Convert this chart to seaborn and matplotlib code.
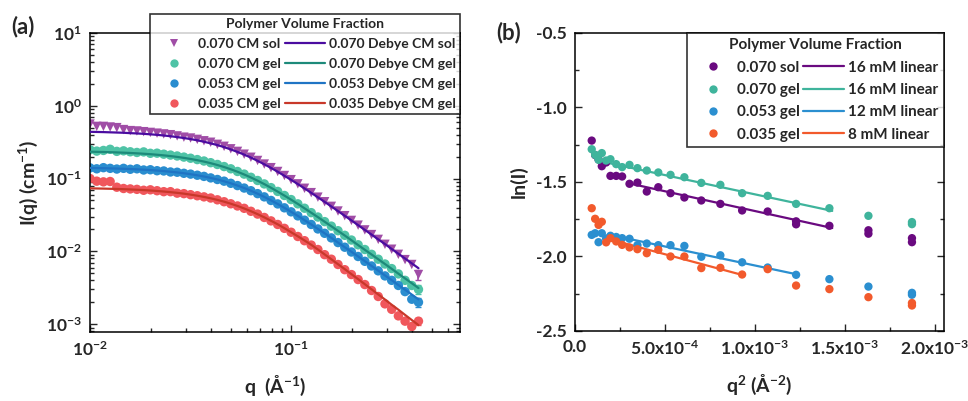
import numpy as np
import pandas as pd
import matplotlib
matplotlib.use("Agg")
import matplotlib.pyplot as plt
import seaborn as sns
from matplotlib.lines import Line2D
from matplotlib.ticker import LogLocator, MultipleLocator, NullFormatter

# ---- panel (a): SANS intensity vs q ----
q = [0.0100, 0.01080, 0.01166, 0.01259, 0.01359, 0.01468, 0.01585, 0.01711, 0.01848, 0.01995,
     0.02154, 0.02326, 0.02512, 0.02712, 0.02929, 0.03162, 0.03415, 0.03687, 0.03981, 0.04299,
     0.04642, 0.05012, 0.05412, 0.05843, 0.06310, 0.06813, 0.07356, 0.07943, 0.08577, 0.09261,
     0.1000, 0.1080, 0.1166, 0.1259, 0.1359, 0.1468, 0.1585, 0.1711, 0.1848, 0.1995,
     0.2154, 0.2326, 0.2512, 0.2712, 0.2929, 0.3162, 0.3415, 0.3687, 0.3981, 0.4299]

i_sol = [0.56, 0.52, 0.52, 0.51, 0.50, 0.47, 0.455, 0.45, 0.44, 0.43,
         0.42, 0.41, 0.40, 0.385, 0.37, 0.36, 0.345, 0.33, 0.315, 0.295,
         0.277, 0.256, 0.236, 0.216, 0.196, 0.177, 0.158, 0.141, 0.125, 0.110,
         0.0965, 0.0845, 0.0735, 0.0640, 0.0555, 0.0480, 0.0415, 0.0358, 0.0309, 0.0266,
         0.0229, 0.0197, 0.0170, 0.0146, 0.0125, 0.0107, 0.0091, 0.0077, 0.0066, 0.0048]
i_gel70 = [0.248, 0.238, 0.243, 0.252, 0.236, 0.240, 0.233, 0.228, 0.232, 0.222,
           0.223, 0.216, 0.210, 0.204, 0.197, 0.190, 0.182, 0.174, 0.165, 0.156,
           0.146, 0.136, 0.125, 0.115, 0.104, 0.0940, 0.0843, 0.0750, 0.0665, 0.0585,
           0.0514, 0.0449, 0.0391, 0.0340, 0.0296, 0.0256, 0.0222, 0.0192, 0.0166, 0.0143,
           0.0123, 0.0106, 0.0091, 0.0078, 0.0067, 0.0058, 0.0049, 0.0040, 0.0034, 0.0030]
i_gel53 = [0.140, 0.136, 0.141, 0.138, 0.135, 0.138, 0.134, 0.136, 0.131, 0.132,
           0.128, 0.127, 0.123, 0.122, 0.118, 0.115, 0.111, 0.107, 0.102, 0.097,
           0.092, 0.086, 0.080, 0.074, 0.068, 0.062, 0.056, 0.050, 0.0448, 0.0396,
           0.0349, 0.0307, 0.0268, 0.0234, 0.0203, 0.0177, 0.0153, 0.0132, 0.0114, 0.0098,
           0.0085, 0.0073, 0.0063, 0.0054, 0.0046, 0.0040, 0.0034, 0.0028, 0.0022, 0.0020]
i_gel35 = [0.100, 0.092, 0.090, 0.091, 0.076, 0.073, 0.072, 0.071, 0.069, 0.070,
           0.068, 0.066, 0.066, 0.063, 0.062, 0.060, 0.058, 0.056, 0.054, 0.051,
           0.048, 0.045, 0.042, 0.039, 0.0355, 0.0325, 0.0292, 0.0262, 0.0234, 0.0207,
           0.0183, 0.0160, 0.0140, 0.0122, 0.0106, 0.0090, 0.0078, 0.0066, 0.0056, 0.0048,
           0.0041, 0.0035, 0.0029, 0.0024, 0.0019, 0.0016, 0.00130, 0.00110, 0.00093, 0.00110]

fit_sol = [0.438, 0.436, 0.434, 0.431, 0.428, 0.425, 0.420, 0.416, 0.411, 0.405,
           0.398, 0.390, 0.381, 0.371, 0.360, 0.348, 0.335, 0.320, 0.304, 0.288,
           0.270, 0.251, 0.232, 0.213, 0.194, 0.175, 0.157, 0.140, 0.124, 0.109,
           0.0960, 0.0839, 0.0732, 0.0636, 0.0552, 0.0478, 0.0414, 0.0357, 0.0308, 0.0266,
           0.0229, 0.0197, 0.0170, 0.0146, 0.0126, 0.0108, 0.00927, 0.00797, 0.00684, 0.00587]
fit_gel70 = [0.2335, 0.2325, 0.2313, 0.2299, 0.2283, 0.2264, 0.2243, 0.2218, 0.2190, 0.2158,
             0.2121, 0.2080, 0.2033, 0.1981, 0.1922, 0.1857, 0.1786, 0.1708, 0.1624, 0.1534,
             0.1439, 0.1340, 0.1239, 0.1136, 0.1034, 0.0934, 0.0838, 0.0747, 0.0661, 0.0583,
             0.0512, 0.0448, 0.0390, 0.0339, 0.0295, 0.0255, 0.0221, 0.0191, 0.0165, 0.0142,
             0.0122, 0.0105, 0.00906, 0.00779, 0.00670, 0.00576, 0.00494, 0.00425, 0.00365, 0.00313]
fit_gel53 = [0.1397, 0.1392, 0.1386, 0.1378, 0.1370, 0.1361, 0.1350, 0.1337, 0.1322, 0.1306,
             0.1287, 0.1265, 0.1240, 0.1213, 0.1182, 0.1147, 0.1108, 0.1066, 0.1020, 0.0970,
             0.0916, 0.0860, 0.0801, 0.0741, 0.0680, 0.0619, 0.0559, 0.0502, 0.0447, 0.0396,
             0.0349, 0.0307, 0.0268, 0.0234, 0.0203, 0.0177, 0.0153, 0.0132, 0.0114, 0.00987,
             0.00851, 0.00733, 0.00631, 0.00543, 0.00467, 0.00402, 0.00345, 0.00297, 0.00255, 0.00219]
fit_gel35 = [0.0733, 0.0730, 0.0727, 0.0723, 0.0719, 0.0714, 0.0708, 0.0701, 0.0694, 0.0685,
             0.0675, 0.0663, 0.0650, 0.0636, 0.0620, 0.0601, 0.0581, 0.0559, 0.0535, 0.0509,
             0.0481, 0.0451, 0.0420, 0.0388, 0.0356, 0.0324, 0.0293, 0.0263, 0.0235, 0.0208,
             0.0183, 0.0161, 0.0141, 0.0123, 0.0106, 0.00908, 0.00778, 0.00666, 0.00570, 0.00486,
             0.00415, 0.00354, 0.00301, 0.00256, 0.00218, 0.00185, 0.00158, 0.00134, 0.00114, 0.00097]

# error bars only visible on the last q point
err_last = [0.0008, 0.0004, 0.0003, 0.00012]

labels_a_pts = ["0.070 CM sol", "0.070 CM gel", "0.053 CM gel", "0.035 CM gel"]
labels_a_fit = ["0.070 Debye CM sol", "0.070 Debye CM gel", "0.053 Debye CM gel", "0.035 Debye CM gel"]

# ---- panel (b): ln(I) vs q^2 (q^2 in 1e-4 A^-2) ----
q2_sol = [0.93, 1.12, 1.31, 1.49, 1.73, 1.97, 2.29, 2.62, 3.03, 3.47, 3.99, 4.63, 5.31,
          6.08, 7.02, 8.08, 9.29, 10.71, 12.29, 12.29, 14.14, 16.31, 16.31, 18.73, 18.73]
ln_sol = [-1.223, -1.32, -1.35, -1.395, -1.37, -1.460, -1.460, -1.464, -1.513, -1.505, -1.565, -1.536, -1.576,
          -1.605, -1.625, -1.648, -1.692, -1.699, -1.765, -1.785, -1.795, -1.825, -1.848, -1.878, -1.905]
q2_gel = [0.93, 1.12, 1.31, 1.49, 1.73, 1.97, 2.29, 2.62, 3.03, 3.47, 3.99, 4.63, 5.31,
          6.08, 7.02, 8.08, 9.29, 10.71, 12.29, 14.14, 16.31, 18.73, 18.73]
ln_gel70 = [-1.281, -1.319, -1.352, -1.307, -1.357, -1.348, -1.381, -1.401, -1.386, -1.408, -1.424, -1.437, -1.453,
            -1.469, -1.507, -1.520, -1.576, -1.594, -1.648, -1.677, -1.728, -1.770, -1.784]
ln_gel53 = [-1.856, -1.845, -1.905, -1.845, -1.880, -1.862, -1.870, -1.878, -1.882, -1.925, -1.914, -1.925, -1.925,
            -1.930, -2.003, -1.993, -2.040, -2.075, -2.124, -2.153, -2.203, -2.245, -2.258]
ln_gel35 = [-1.677, -1.748, -1.789, -1.768, -1.906, -1.878, -1.900, -1.923, -1.940, -1.952, -1.979, -1.956, -2.001,
            -2.001, -2.079, -2.077, -2.122, -2.086, -2.196, -2.220, -2.274, -2.313, -2.330]

# linear fits (end points)
lin_x = [[3.0, 14.3], [1.73, 14.3], [2.3, 12.3], [1.73, 9.3]]
lin_y = [[-1.51, -1.81], [-1.37, -1.695], [-1.865, -2.12], [-1.88, -2.125]]

labels_b_pts = ["0.070 sol", "0.070 gel", "0.053 gel", "0.035 gel"]
labels_b_fit = ["16 mM linear", "16 mM linear", "12 mM linear", "8 mM linear"]

pts_colors_a = ["#a04da6", "#4fc3a6", "#2a8dcf", "#f0575c"]
fit_colors_a = ["#4a0ca0", "#1d8a7a", "#1f74c4", "#c8382a"]
colors_b = ["#6a0a80", "#3fb49c", "#2b8fd0", "#f25a2c"]

sns.set_style("ticks")
plt.rcParams["font.family"] = ["Lato", "DejaVu Sans"]
plt.rcParams["font.weight"] = "bold"
plt.rcParams["axes.labelweight"] = "bold"
plt.rcParams["mathtext.fontset"] = "custom"
plt.rcParams["mathtext.rm"] = "Lato:bold"
plt.rcParams["mathtext.it"] = "Lato:bold"
plt.rcParams["mathtext.bf"] = "Lato:bold"
plt.rcParams["mathtext.sf"] = "Lato:bold"
plt.rcParams["mathtext.default"] = "rm"

fig = plt.figure(figsize=(9.68, 4.01), dpi=100)
ax1 = fig.add_axes([0.093, 0.172, 0.382, 0.746])
ax2 = fig.add_axes([0.594, 0.175, 0.381, 0.743])

df_a = pd.DataFrame({"q": q, "sol": i_sol, "g70": i_gel70, "g53": i_gel53, "g35": i_gel35,
                     "f_sol": fit_sol, "f70": fit_gel70, "f53": fit_gel53, "f35": fit_gel35})
pts_cols = ["sol", "g70", "g53", "g35"]
fit_cols = ["f_sol", "f70", "f53", "f35"]
markers_a = ["v", "o", "o", "o"]

for col, c, m, e in zip(pts_cols, pts_colors_a, markers_a, err_last):
    sns.scatterplot(data=df_a, x="q", y=col, ax=ax1, color=c, marker=m, s=46,
                    edgecolor="none", legend=False, zorder=2)
    ax1.errorbar(df_a["q"].iloc[-1], df_a[col].iloc[-1], yerr=e, fmt="none",
                 ecolor=c, elinewidth=1.2, capsize=2.5, zorder=2)
for col, c in zip(fit_cols, fit_colors_a):
    sns.lineplot(data=df_a, x="q", y=col, ax=ax1, color=c, linewidth=1.6,
                 legend=False, zorder=3)

ax1.set_xscale("log")
ax1.set_yscale("log")
ax1.set_xlim(0.01, 0.69)
ax1.set_ylim(7.8e-4, 10)
ax1.set_xticks([0.01, 0.1], [r"$10^{-2}$", r"$10^{-1}$"])
ax1.set_yticks([1e-3, 1e-2, 1e-1, 1, 10],
               [r"$10^{-3}$", r"$10^{-2}$", r"$10^{-1}$", r"$10^{0}$", r"$10^{1}$"])
ax1.xaxis.set_minor_locator(LogLocator(base=10, subs=np.arange(2, 10)))
ax1.yaxis.set_minor_locator(LogLocator(base=10, subs=np.arange(2, 10)))
ax1.xaxis.set_minor_formatter(NullFormatter())
ax1.yaxis.set_minor_formatter(NullFormatter())
ax1.set_xlabel(r"q  (Å$^{-1}$)", fontsize=14, labelpad=11)
ax1.set_ylabel(r"I(q) (cm$^{-1}$)", fontsize=14, labelpad=4)

h_a = [Line2D([], [], ls="none", marker=m, color=c, markersize=6, markeredgewidth=0)
       for m, c in zip(markers_a, pts_colors_a)]
h_a += [Line2D([], [], color=c, linewidth=1.6) for c in fit_colors_a]
leg1 = ax1.legend(h_a, labels_a_pts + labels_a_fit, ncol=2, loc="upper right",
                  bbox_to_anchor=(1.0, 1.064), borderaxespad=0, fontsize=10,
                  title="Polymer Volume Fraction", title_fontproperties={"weight": "bold", "size": 10},
                  handlelength=2.9, handletextpad=0.25, columnspacing=0.3, labelspacing=0.58,
                  borderpad=0.3, frameon=True, fancybox=False, edgecolor="black")
leg1.get_frame().set_linewidth(1.2)

# panel (b)
for x, y, c in zip([q2_sol, q2_gel, q2_gel, q2_gel], [ln_sol, ln_gel70, ln_gel53, ln_gel35], colors_b):
    sns.scatterplot(x=np.array(x) * 1e-4, y=y, ax=ax2, color=c, s=36, edgecolor="none",
                    legend=False, zorder=3)
for x, y, c in zip(lin_x, lin_y, colors_b):
    sns.lineplot(x=np.array(x) * 1e-4, y=y, ax=ax2, color=c, linewidth=1.6, legend=False, zorder=2)

ax2.set_xlim(0, 2.05e-3)
ax2.set_ylim(-2.5, -0.5)
ax2.set_xticks([0, 5e-4, 1e-3, 1.5e-3, 2e-3],
               ["0.0", r"5.0x10$^{-4}$", r"1.0x10$^{-3}$", r"1.5x10$^{-3}$", r"2.0x10$^{-3}$"])
ax2.set_yticks([-2.5, -2.0, -1.5, -1.0, -0.5], ["-2.5", "-2.0", "-1.5", "-1.0", "-0.5"])
ax2.xaxis.set_minor_locator(MultipleLocator(2.5e-4))
ax2.yaxis.set_minor_locator(MultipleLocator(0.25))
ax2.set_xlabel(r"q$^2$ (Å$^{-2}$)", fontsize=14, labelpad=11)
ax2.set_ylabel("ln(I)", fontsize=14, labelpad=6)

h_b = [Line2D([], [], ls="none", marker="o", color=c, markersize=6, markeredgewidth=0) for c in colors_b]
h_b += [Line2D([], [], color=c, linewidth=1.6) for c in colors_b]
leg2 = ax2.legend(h_b, labels_b_pts + labels_b_fit, ncol=2, loc="upper right",
                  borderaxespad=0, fontsize=11,
                  title="Polymer Volume Fraction", title_fontproperties={"weight": "bold", "size": 11},
                  handlelength=2.7, handletextpad=0.25, columnspacing=0.2, labelspacing=0.55,
                  borderpad=0.35, frameon=True, fancybox=False, edgecolor="black")
leg2.get_frame().set_linewidth(1.2)

for ax in (ax1, ax2):
    for sp in ax.spines.values():
        sp.set_visible(True)
        sp.set_linewidth(1.1)
        sp.set_color("black")
    ax.tick_params(which="both", direction="in", left=True, bottom=True, right=True, top=False,
                   labelsize=12.5, width=1.0, pad=6)
    ax.tick_params(which="major", length=5)
    ax.tick_params(which="minor", length=3)

fig.text(0.024, 0.935, "(a)", fontsize=16, fontweight="bold", ha="center", va="center")
fig.text(0.525, 0.92, "(b)", fontsize=16, fontweight="bold", ha="center", va="center")

fig.savefig("out.png", dpi=100)
